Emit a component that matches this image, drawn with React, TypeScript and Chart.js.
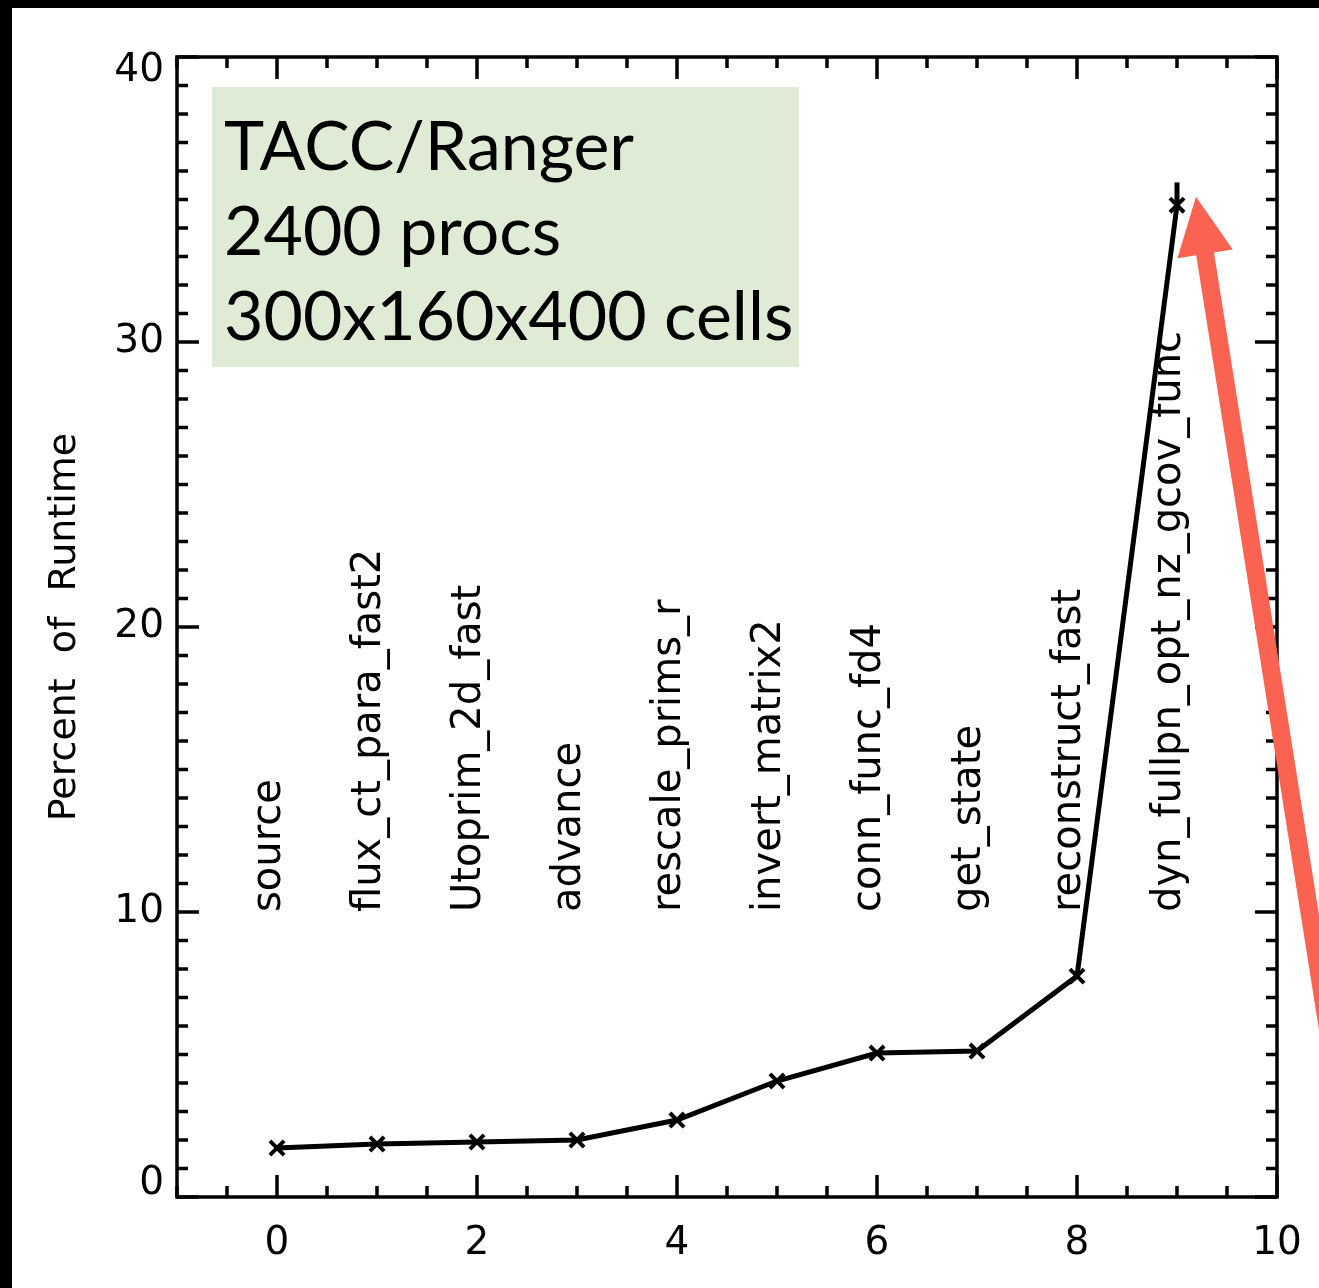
import { useEffect, useRef } from "react";
import { Chart, registerables } from "chart.js";

Chart.register(...registerables);

// ---- data ----
const categories = [
  "source",
  "flux_ct_para_fast2",
  "Utoprim_2d_fast",
  "advance",
  "rescale_prims_r",
  "invert_matrix2",
  "conn_func_fd4",
  "get_state",
  "reconstruct_fast",
  "dyn_fullpn_opt_nz_gcov_func",
];
const xValues = [0, 1, 2, 3, 4, 5, 6, 7, 8, 9];
const runtimePercent = [1.72, 1.86, 1.93, 2.0, 2.7, 4.07, 5.05, 5.12, 7.75, 34.8];
const peakSpike = [34.8, 35.6];
const xTickLabels = [0, 2, 4, 6, 8, 10];
const yTickLabels = [0, 10, 20, 30, 40];
const yTitle = "Percent of Runtime";
const infoLines = ["TACC/Ranger", "2400 procs", "300x160x400 cells"];
const labelAnchorValue = 10;
const arrowTip = { x: 9.19, y: 35.1 };
const arrowTail = { x: 10.55, y: 5.0 };

const W = 1307;
const H = 1280;

const idlPlugin = {
  id: "idlFrame",
  beforeDatasetsDraw(chart: any) {
    const { ctx, chartArea: a } = chart;
    ctx.save();
    // info box
    const bx = a.left + 35;
    const by = a.top + 30;
    ctx.fillStyle = "#e0ebd6";
    ctx.fillRect(bx, by, 587, 280);
    ctx.fillStyle = "#000";
    ctx.font = "68px Lato";
    ctx.textAlign = "left";
    ctx.textBaseline = "alphabetic";
    infoLines.forEach((t, i) => ctx.fillText(t, bx + 12, by + 83 + i * 85));

    // category labels (rotated)
    const xs = chart.scales.x;
    const ys = chart.scales.y;
    ctx.font = "40px 'DejaVu Sans'";
    categories.forEach((c, i) => {
      const px = xs.getPixelForValue(xValues[i]);
      const py = ys.getPixelForValue(labelAnchorValue);
      ctx.save();
      ctx.translate(px + 3, py);
      ctx.rotate(-Math.PI / 2);
      ctx.fillText(c, 0, 0);
      ctx.restore();
    });
    ctx.restore();
  },
  afterDraw(chart: any) {
    const { ctx, chartArea: a } = chart;
    const xs = chart.scales.x;
    const ys = chart.scales.y;
    ctx.save();
    ctx.strokeStyle = "#000";
    ctx.lineWidth = 3.5;
    const seg = (x1: number, y1: number, x2: number, y2: number) => {
      ctx.beginPath();
      ctx.moveTo(x1, y1);
      ctx.lineTo(x2, y2);
      ctx.stroke();
    };
    // x ticks (bottom & top)
    for (let v = xs.min; v <= xs.max + 1e-9; v += 0.5) {
      const px = xs.getPixelForValue(v);
      const len = xTickLabels.includes(v) ? 22 : 11;
      seg(px, a.bottom, px, a.bottom - len);
      seg(px, a.top, px, a.top + len);
    }
    // y ticks (left & right)
    for (let v = ys.min; v <= ys.max + 1e-9; v += 1) {
      const py = ys.getPixelForValue(v);
      const len = yTickLabels.includes(v) ? 22 : 11;
      seg(a.left, py, a.left + len, py);
      seg(a.right, py, a.right - len, py);
    }
    ctx.lineJoin = "miter";
    ctx.strokeRect(a.left, a.top, a.right - a.left, a.bottom - a.top);

    // tick labels
    ctx.fillStyle = "#000";
    ctx.font = "39px 'DejaVu Sans'";
    ctx.textAlign = "center";
    ctx.textBaseline = "middle";
    xTickLabels.forEach((v) => {
      ctx.fillText(String(v), xs.getPixelForValue(v), a.bottom + 47);
    });
    ctx.textAlign = "right";
    yTickLabels.forEach((v) => {
      let py = ys.getPixelForValue(v);
      py = Math.min(Math.max(py, a.top + 14), a.bottom - 13);
      ctx.fillText(String(v), a.left - 13, py);
    });
    // y title
    ctx.save();
    ctx.font = "38px 'DejaVu Sans'";
    (ctx as any).wordSpacing = "13px";
    ctx.translate(a.left - 102, (a.top + a.bottom) / 2);
    ctx.rotate(-Math.PI / 2);
    ctx.textAlign = "center";
    ctx.textBaseline = "alphabetic";
    ctx.fillText(yTitle, 0, 0);
    ctx.restore();

    // arrow annotation
    const tx = xs.getPixelForValue(arrowTip.x);
    const ty = ys.getPixelForValue(arrowTip.y);
    const sx = xs.getPixelForValue(arrowTail.x);
    const sy = ys.getPixelForValue(arrowTail.y);
    const dx = tx - sx;
    const dy = ty - sy;
    const L = Math.hypot(dx, dy);
    const ux = dx / L;
    const uy = dy / L;
    const nx = -uy;
    const ny = ux;
    const headLen = 58;
    const headHalf = 28;
    const shaftHalf = 9;
    const hx = tx - ux * headLen;
    const hy = ty - uy * headLen;
    ctx.fillStyle = "#fa6352";
    ctx.beginPath();
    ctx.moveTo(sx + nx * shaftHalf, sy + ny * shaftHalf);
    ctx.lineTo(hx + nx * shaftHalf, hy + ny * shaftHalf);
    ctx.lineTo(hx + nx * headHalf, hy + ny * headHalf);
    ctx.lineTo(tx, ty);
    ctx.lineTo(hx - nx * headHalf, hy - ny * headHalf);
    ctx.lineTo(hx - nx * shaftHalf, hy - ny * shaftHalf);
    ctx.lineTo(sx - nx * shaftHalf, sy - ny * shaftHalf);
    ctx.closePath();
    ctx.fill();
    ctx.restore();
  },
};

export default function App() {
  const ref = useRef<HTMLCanvasElement | null>(null);
  useEffect(() => {
    if (!ref.current) return;
    const chart = new Chart(ref.current, {
      type: "scatter",
      data: {
        datasets: [
          {
            data: xValues.map((x, i) => ({ x, y: runtimePercent[i] })),
            showLine: true,
            borderColor: "#000",
            borderWidth: 5,
            pointStyle: "crossRot",
            pointRadius: 10,
            pointBorderWidth: 4,
            pointBorderColor: "#000",
            pointBackgroundColor: "#000",
          },
          {
            data: peakSpike.map((y) => ({ x: xValues[xValues.length - 1], y })),
            showLine: true,
            borderColor: "#000",
            borderWidth: 5,
            pointRadius: 0,
          },
        ],
      },
      options: {
        responsive: false,
        animation: false,
        devicePixelRatio: 1,
        layout: { padding: { left: 165, top: 49, right: 42, bottom: 91 } },
        plugins: { legend: { display: false }, tooltip: { enabled: false } },
        scales: {
          x: { type: "linear", min: -1, max: 10, display: false },
          y: { type: "linear", min: 0, max: 40, display: false },
        },
      },
      plugins: [idlPlugin],
    });
    return () => chart.destroy();
  }, []);
  return (
    <div
      style={{
        position: "fixed",
        left: 0,
        top: 0,
        width: 1319,
        height: 1288,
        background: "#000",
        overflow: "hidden",
      }}
    >
      <canvas
        ref={ref}
        width={W}
        height={H}
        style={{
          position: "absolute",
          left: 12,
          top: 8,
          width: W,
          height: H,
          background: "#fff",
        }}
      />
    </div>
  );
}
